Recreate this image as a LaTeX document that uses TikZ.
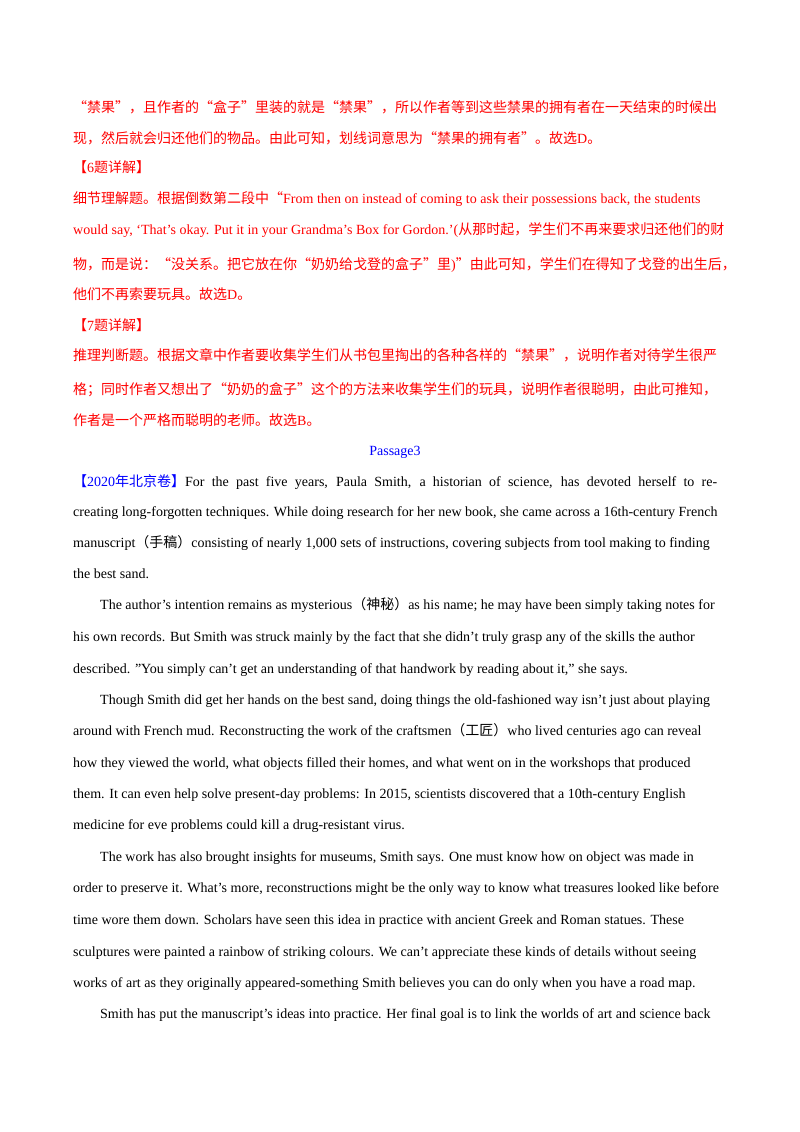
\documentclass[tikz,border=0pt]{standalone}
\usepackage{fontspec}
\setmainfont{Liberation Serif}
\newfontfamily\cjkf{Noto Sans CJK SC}
\XeTeXinterchartokenstate=1
\newXeTeXintercharclass\cjkclass
\newcount\cc
\def\setrange#1#2{\cc=#1\relax\loop\XeTeXcharclass\cc=\cjkclass\advance\cc by 1\relax\ifnum\cc<#2\repeat}
\setrange{"3000}{"3040}
\setrange{"4E00}{"A000}
\setrange{"FF00}{"FFF0}
\XeTeXcharclass"201C=\cjkclass
\XeTeXcharclass"201D=\cjkclass
\XeTeXinterchartoks 0 \cjkclass = {\cjkf}
\XeTeXinterchartoks 4095 \cjkclass = {\cjkf}
\XeTeXinterchartoks \cjkclass 0 = {\rmfamily}
\definecolor{redt}{RGB}{255,0,0}
\definecolor{bluet}{RGB}{0,0,255}
\hbadness=10000
\tikzset{ln/.style={anchor=base west,inner sep=0pt,font=\fontsize{14}{14}\selectfont}}
\begin{document}
\begin{tikzpicture}[x=1pt,y=-1pt]
\useasboundingbox (0,0) rectangle (800,1132);
\fill[white] (0,0) rectangle (800,1132);
\begin{scope}[every node/.style={ln,text=redt}]
\node (l1) at (73,112) {“禁果”，且作者的“盒子”里装的就是“禁果”，所以作者等到这些禁果的拥有者在一天结束的时候出};
\node (l2) at (73,143) {现，然后就会归还他们的物品。由此可知，划线词意思为“禁果的拥有者”。故选D。};
\node (l3) at (73,172) {【6题详解】};
\node (l4) at (73,203) {细节理解题。根据倒数第二段中“From then on instead of coming to ask their possessions back, the students};
\node (l5) at (73,234) {would say, ‘That's okay. Put it in your Grandma's Box for Gordon.’(从那时起，学生们不再来要求归还他们的财};
\node (l6) at (73,269) {物，而是说：“没关系。把它放在你“奶奶给戈登的盒子”里)”由此可知，学生们在得知了戈登的出生后，};
\node (l7) at (73,299) {他们不再索要玩具。故选D。};
\node (l8) at (73,330) {【7题详解】};
\node (l9) at (73,360) {推理判断题。根据文章中作者要收集学生们从书包里掏出的各种各样的“禁果”，说明作者对待学生很严};
\node (l10) at (73,394) {格；同时作者又想出了“奶奶的盒子”这个的方法来收集学生们的玩具，说明作者很聪明，由此可推知，};
\node (l11) at (73,425) {作者是一个严格而聪明的老师。故选B。};
\end{scope}
\node[ln,anchor=base,text=bluet] (l12) at (395,455) {Passage3};
\begin{scope}[every node/.style={ln,text=black}]
\node (l13) at (73,486) {\hbox to 644pt{\textcolor{bluet}{【2020年北京卷】}For the past five years, Paula Smith, a historian of science, has devoted herself to re-}};
\node (l14) at (73,516) {creating long-forgotten techniques. While doing research for her new book, she came across a 16th-century French};
\node (l15) at (73,547) {manuscript（手稿）consisting of nearly 1,000 sets of instructions, covering subjects from tool making to finding};
\node (l16) at (73,578) {the best sand.};
\node (l17) at (100,609) {The author's intention remains as mysterious（神秘）as his name; he may have been simply taking notes for};
\node (l18) at (73,641) {his own records. But Smith was struck mainly by the fact that she didn't truly grasp any of the skills the author};
\node (l19) at (73,673) {described. {\char"22}You simply can't get an understanding of that handwork by reading about it,{\char"22} she says.};
\node (l20) at (100,704) {Though Smith did get her hands on the best sand, doing things the old-fashioned way isn't just about playing};
\node (l21) at (73,735) {around with French mud. Reconstructing the work of the craftsmen（工匠）who lived centuries ago can reveal};
\node (l22) at (73,767) {how they viewed the world, what objects filled their homes, and what went on in the workshops that produced};
\node (l23) at (73,798) {them. It can even help solve present-day problems: In 2015, scientists discovered that a 10th-century English};
\node (l24) at (73,829) {medicine for eve problems could kill a drug-resistant virus.};
\node (l25) at (100,861) {The work has also brought insights for museums, Smith says. One must know how on object was made in};
\node (l26) at (73,892) {order to preserve it. What's more, reconstructions might be the only way to know what treasures looked like before};
\node (l27) at (73,924) {time wore them down. Scholars have seen this idea in practice with ancient Greek and Roman statues. These};
\node (l28) at (73,956) {sculptures were painted a rainbow of striking colours. We can't appreciate these kinds of details without seeing};
\node (l29) at (73,987) {works of art as they originally appeared-something Smith believes you can do only when you have a road map.};
\node (l30) at (100,1018) {Smith has put the manuscript's ideas into practice. Her final goal is to link the worlds of art and science back};
\end{scope}
\end{tikzpicture}
\end{document}
